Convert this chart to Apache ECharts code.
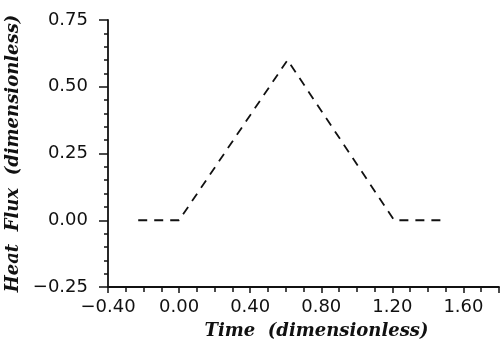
<!DOCTYPE html>
<html>
<head>
<meta charset="utf-8">
<script src="https://cdn.jsdelivr.net/npm/echarts@6/dist/echarts.min.js"></script>
<style>
html,body{margin:0;padding:0;background:#fff;}
#chart{width:500px;height:344px;}
</style>
</head>
<body>
<div id="chart"></div>
<script>
// Data
var timeValues = [-0.23, 0.0, 0.61, 1.21, 1.5];
var fluxValues = [0, 0, 0.6, 0, 0];
var xTitle = "Time  (dimensionless)";
var yTitle = "Heat  Flux  (dimensionless)";

function fmt(v) {
  var s = Math.abs(v).toFixed(2);
  return (v < -1e-9 ? "\u2212" : "") + s;
}

var chart = echarts.init(document.getElementById('chart'), null, {renderer: 'canvas'});
var axisColor = '#111';
var labelFont = {color: '#111', fontFamily: 'DejaVu Sans', fontSize: 18};
var titleFont = {color: '#111', fontFamily: 'DejaVu Serif', fontStyle: 'italic', fontWeight: 'bold', fontSize: 18};

chart.setOption({
  animation: false,
  backgroundColor: '#fff',
  grid: {left: 108, right: 1, top: 20, bottom: 57, containLabel: false, outerBoundsMode: 'none'},
  xAxis: {
    type: 'value', min: -0.4, max: 1.8, interval: 0.4,
    name: xTitle, nameLocation: 'middle', nameGap: 35,
    nameTextStyle: Object.assign({}, titleFont, {padding: [0, 0, 0, 26]}),
    axisLine: {show: true, onZero: false, lineStyle: {color: axisColor, width: 1.8}},
    axisTick: {show: true, inside: false, length: 6, lineStyle: {color: axisColor, width: 1.5}},
    minorTick: {show: true, splitNumber: 4, length: 5, lineStyle: {color: axisColor, width: 1.5}},
    axisLabel: Object.assign({}, labelFont, {margin: 11, showMaxLabel: false, formatter: fmt}),
    splitLine: {show: false}
  },
  yAxis: {
    type: 'value', min: -0.25, max: 0.75, interval: 0.25,
    name: yTitle, nameLocation: 'middle', nameGap: 84, nameRotate: 90,
    nameTextStyle: Object.assign({}, titleFont, {padding: [0, 0, 0, 0]}),
    axisLine: {show: true, onZero: false, lineStyle: {color: axisColor, width: 1.8}},
    axisTick: {show: true, inside: false, length: 9, lineStyle: {color: axisColor, width: 1.5}},
    minorTick: {show: true, splitNumber: 5, length: 4, lineStyle: {color: axisColor, width: 1.5}},
    axisLabel: Object.assign({}, labelFont, {margin: 20, formatter: fmt}),
    splitLine: {show: false}
  },
  series: [{
    type: 'line',
    data: timeValues.map(function (t, i) { return [t, fluxValues[i]]; }),
    showSymbol: false,
    lineStyle: {color: '#111', width: 1.8, type: [9, 7]}
  }]
});
</script>
</body>
</html>
